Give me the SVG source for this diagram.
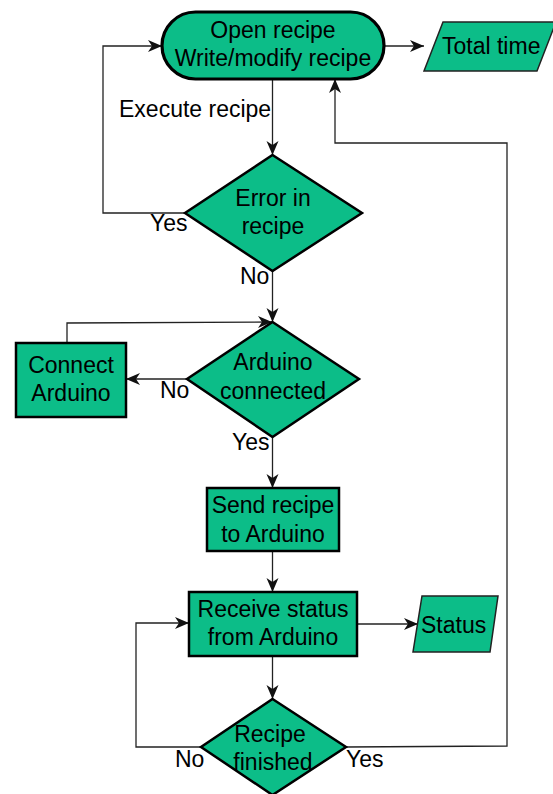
<svg xmlns="http://www.w3.org/2000/svg" width="553" height="794" viewBox="0 0 553 794">
<style>
.n{fill:#0cbd88;stroke:#000;stroke-width:2.5}
.io{fill:#0cbd88;stroke:#222;stroke-width:1.5}
.t{font-family:"Liberation Sans",Arial,sans-serif;font-size:23px;fill:#000;text-anchor:middle}
.l{font-family:"Liberation Sans",Arial,sans-serif;font-size:23px;fill:#000}
.c{fill:none;stroke:#222;stroke-width:1.3}
</style>
<defs>
<marker id="a" markerUnits="userSpaceOnUse" markerWidth="16" markerHeight="14" refX="14" refY="6" orient="auto" viewBox="0 0 16 12">
<path d="M0,0 L14,6 L0,12 L4,6 z" fill="#111"/>
</marker>
</defs>
<g id="connectors">
<path class="c" d="M384,46 L424,46" marker-end="url(#a)"/>
<path class="c" d="M185,213 L103,213 L103,46 L162,46" marker-end="url(#a)"/>
<path class="c" d="M272.5,79 L272.5,155" marker-end="url(#a)"/>
<path class="c" d="M272.5,271 L272.5,322" marker-end="url(#a)"/>
<path class="c" d="M67,343 L67,323 L272,322" marker-end="url(#a)"/>
<path class="c" d="M187,379 L126,379" marker-end="url(#a)"/>
<path class="c" d="M272.5,437 L272.5,488" marker-end="url(#a)"/>
<path class="c" d="M272.5,551 L272.5,592" marker-end="url(#a)"/>
<path class="c" d="M357,624 L418,624" marker-end="url(#a)"/>
<path class="c" d="M272.5,656 L272.5,699" marker-end="url(#a)"/>
<path class="c" d="M201,747 L136,747 L136,623 L189,623" marker-end="url(#a)"/>
<path class="c" d="M346,747 L507,746 L507,143 L335,143 L335,79" marker-end="url(#a)"/>
</g>
<g id="open-recipe">
<rect class="n" x="162" y="12" width="222" height="67" rx="33.5" style="stroke-width:3.2"/>
<text class="t" x="273" y="38">Open recipe</text>
<text class="t" x="273" y="66">Write/modify recipe</text>
</g>
<g id="total-time">
<polygon class="io" points="443,22 556,22 537,71 424,71"/>
<text class="l" x="442" y="54">Total time</text>
</g>
<g id="error-in-recipe">
<polygon class="n" points="272.5,155 362,213 272.5,271 185,213"/>
<text class="t" x="273" y="206">Error in</text>
<text class="t" x="273" y="234">recipe</text>
</g>
<g id="arduino-connected">
<polygon class="n" points="272.5,322 359,379 272.5,437 187,379"/>
<text class="t" x="273" y="370">Arduino</text>
<text class="t" x="273" y="399">connected</text>
</g>
<g id="connect-arduino">
<rect class="n" x="16" y="343" width="110" height="74"/>
<text class="t" x="71" y="373">Connect</text>
<text class="t" x="71" y="401">Arduino</text>
</g>
<g id="send-recipe">
<rect class="n" x="207" y="488" width="132" height="63"/>
<text class="t" x="273" y="513">Send recipe</text>
<text class="t" x="273" y="542">to Arduino</text>
</g>
<g id="receive-status">
<rect class="n" x="189" y="592" width="168" height="64"/>
<text class="t" x="273" y="617">Receive status</text>
<text class="t" x="273" y="645">from Arduino</text>
</g>
<g id="status">
<polygon class="io" points="422,596 498,596 490,652 413,652"/>
<text class="l" x="421" y="633">Status</text>
</g>
<g id="recipe-finished">
<polygon class="n" points="272.5,699 346,747 272.5,795 201,747"/>
<text class="t" x="270" y="742">Recipe</text>
<text class="t" x="273" y="770">finished</text>
</g>
<g id="labels">
<text class="l" x="119" y="117">Execute recipe</text>
<text class="l" x="150" y="231">Yes</text>
<text class="l" x="240" y="284">No</text>
<text class="l" x="160" y="398">No</text>
<text class="l" x="232" y="450">Yes</text>
<text class="l" x="175" y="767">No</text>
<text class="l" x="346" y="767">Yes</text>
</g>
</svg>
